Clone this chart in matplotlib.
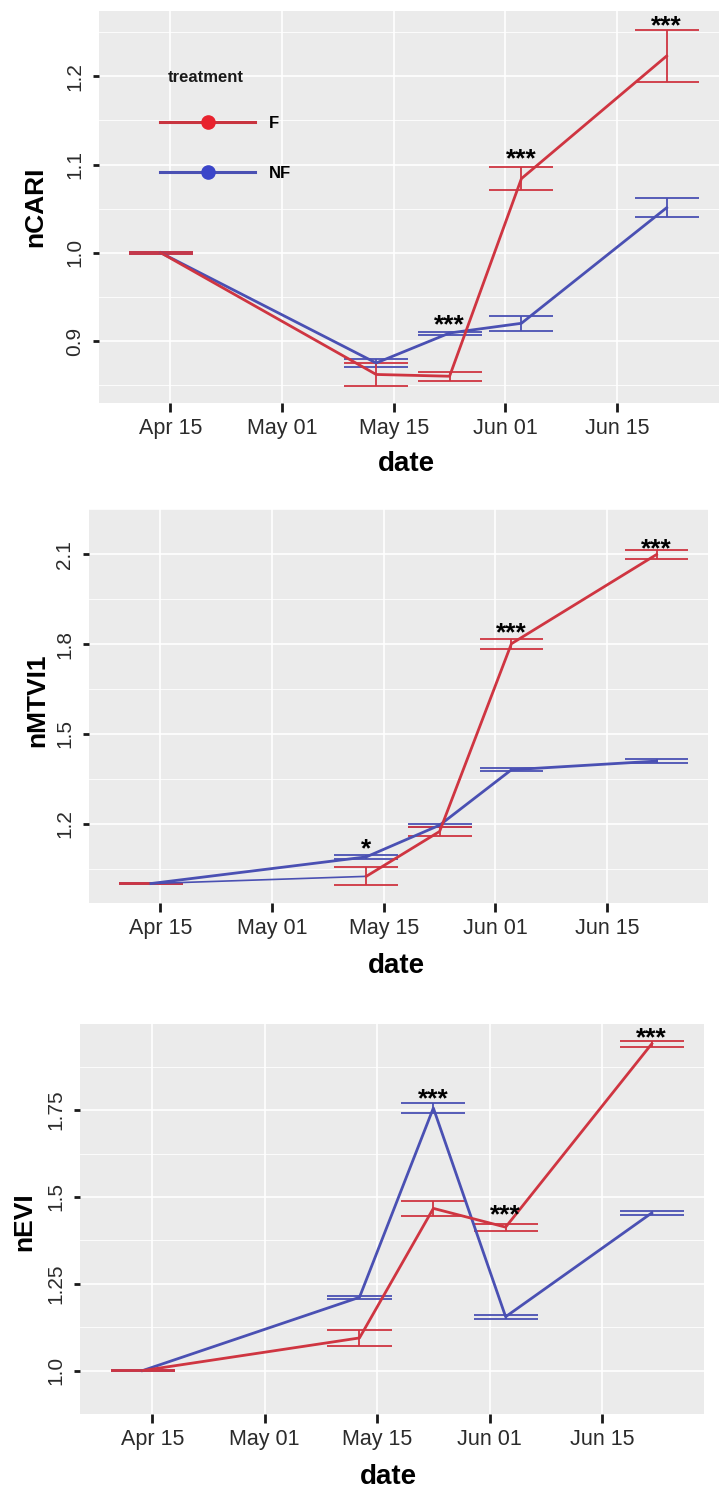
import matplotlib
matplotlib.use("Agg")
import matplotlib.pyplot as plt
from matplotlib.lines import Line2D

plt.rcParams['font.family'] = ['Liberation Sans', 'DejaVu Sans']

W, H = 720, 1490

# sampling dates, as days after Apr 15 (axis ticks every two weeks)
days = [-1.2, 25.8, 35.0, 44.0, 62.2]
date_ticks = [0, 14, 28, 42, 56]
date_labels = ["Apr 15", "May 01", "May 15", "Jun 01", "Jun 15"]

# nCARI
cari_f = [1.0, 0.862, 0.860, 1.084, 1.223]
cari_f_se = [0.001, 0.0135, 0.005, 0.0133, 0.030]
cari_nf = [1.0, 0.875, 0.909, 0.920, 1.051]
cari_nf_se = [0.001, 0.005, 0.0017, 0.0087, 0.011]
cari_stars = ["", "", "***", "***", "***"]
cari_star_y = [0, 0, 0.924, 1.112, 1.263]

# nMTVI1
mtvi_f = [1.0, 1.024, 1.174, 1.801, 2.099]
mtvi_f_se = [0.002, 0.030, 0.016, 0.016, 0.015]
mtvi_nf = [1.0, 1.089, 1.195, 1.380, 1.409]
mtvi_nf_se = [0.002, 0.007, 0.005, 0.005, 0.007]
mtvi_stars = ["", "*", "", "***", "***"]
mtvi_star_y = [0, 1.134, 0, 1.855, 2.136]

# nEVI
evi_f = [1.0, 1.094, 1.467, 1.413, 1.941]
evi_f_se = [0.002, 0.024, 0.022, 0.010, 0.008]
evi_nf = [1.0, 1.211, 1.756, 1.155, 1.454]
evi_nf_se = [0.002, 0.005, 0.014, 0.006, 0.006]
evi_stars = ["", "", "***", "***", "***"]
evi_star_y = [0, 0, 1.798, 1.464, 1.973]

RED = "#cf3541"
BLUE = "#4a50b3"
CAP = 4.0  # half width of the error bar caps, days


def fig_xy(x, y):
    return x / W, 1 - y / H


def panel(fig, box, ylim, yticks, ylabels, f, f_se, nf, nf_se, stars, star_y,
          ylabel, ylabel_xy, xlabel_xy, blue_first_seg=False):
    left, top, right, bottom = box
    ax = fig.add_axes([left / W, 1 - bottom / H, (right - left) / W, (bottom - top) / H])
    ax.set_facecolor("#ebebeb")
    for s in ax.spines.values():
        s.set_visible(False)
    ax.set_xlim(-9, 68.7)
    ax.set_ylim(*ylim)
    ax.set_xticks(date_ticks, date_labels)
    ax.set_yticks(yticks, ylabels)
    step = yticks[1] - yticks[0]
    minor = [yticks[0] - step / 2] + [t + step / 2 for t in yticks]
    ax.set_yticks(minor, minor=True)
    ax.grid(True, which='major', color='white', lw=1.2)
    ax.grid(True, which='minor', axis='y', color='white', lw=0.6)
    ax.set_axisbelow(True)
    ax.tick_params(which='minor', length=0)
    ax.tick_params(axis='x', length=6.5, width=2, color='#1a1a1a', pad=4.5,
                   labelsize=15.5, labelcolor='#2b2b2b')
    ax.tick_params(axis='y', length=4, width=2, color='#1a1a1a', pad=6.5,
                   labelsize=15, labelcolor='#2b2b2b', labelrotation=90)
    plt.setp(ax.get_yticklabels(), va='center')

    for vals, se, col in ((nf, nf_se, BLUE), (f, f_se, RED)):
        lo = [v - e for v, e in zip(vals, se)]
        hi = [v + e for v, e in zip(vals, se)]
        x0 = [d - CAP for d in days]
        x1 = [d + CAP for d in days]
        ax.vlines(days, lo, hi, color=col, lw=1.3)
        ax.hlines(lo, x0, x1, color=col, lw=1.3)
        ax.hlines(hi, x0, x1, color=col, lw=1.3)

    ax.plot(days, nf, color=BLUE, lw=2)
    if blue_first_seg:
        # the original shows the first F segment in blue
        ax.plot(days[:2], f[:2], color=BLUE, lw=1.2)
        ax.plot(days[1:], f[1:], color=RED, lw=2)
    else:
        ax.plot(days, f, color=RED, lw=2)

    for d, s, y in zip(days, stars, star_y):
        if s:
            ax.annotate(s, (d, y), xytext=(0, -4), textcoords='offset points',
                        ha='center', va='center', fontsize=19, fontweight='bold')

    ax.set_ylabel(ylabel, fontsize=19, fontweight='bold', va='center')
    ax.yaxis.set_label_coords(*fig_xy(*ylabel_xy), transform=fig.transFigure)
    ax.set_xlabel("date", fontsize=20, fontweight='bold', va='center')
    ax.xaxis.set_label_coords(*fig_xy(*xlabel_xy), transform=fig.transFigure)
    return ax


fig = plt.figure(figsize=(W / 100, H / 100), dpi=100)

ax1 = panel(fig, (98.5, 11, 718.5, 402.7), (0.83, 1.274),
            [0.9, 1.0, 1.1, 1.2], ["0.9", "1.0", "1.1", "1.2"],
            cari_f, cari_f_se, cari_nf, cari_nf_se, cari_stars, cari_star_y,
            "nCARI", (35, 207), (406, 464))

panel(fig, (88.7, 509.3, 708.4, 902.7), (0.936, 2.168),
      [1.2, 1.5, 1.8, 2.1], ["1.2", "1.5", "1.8", "2.1"],
      mtvi_f, mtvi_f_se, mtvi_nf, mtvi_nf_se, mtvi_stars, mtvi_star_y,
      "nMTVI1", (37, 700), (396, 966), blue_first_seg=True)

panel(fig, (80, 1024.3, 704, 1414), (0.956, 1.997),
      [1.0, 1.25, 1.5, 1.75], ["1.0", "1.25", "1.5", "1.75"],
      evi_f, evi_f_se, evi_nf, evi_nf_se, evi_stars, evi_star_y,
      "nEVI", (24, 1222), (388, 1477))

# legend inside the first panel
handles = [
    Line2D([], [], color="#c8343f", lw=2.2, marker='o', ms=9.5,
           mfc="#e8222e", mec="#e8222e"),
    Line2D([], [], color="#4a50b3", lw=2.2, marker='o', ms=9.5,
           mfc="#3b45c9", mec="#3b45c9"),
]
ax1.legend(handles, ["F", "NF"], loc='upper left', bbox_to_anchor=fig_xy(152, 108),
           bbox_transform=fig.transFigure, frameon=False, borderpad=0,
           handlelength=5.7, handletextpad=0.8, labelspacing=2.1,
           prop={'weight': 'bold', 'size': 12})
fig.text(*fig_xy(206, 78), "treatment", ha='center', va='center',
         fontsize=12, fontweight='bold', color='#1a1a1a')

fig.savefig("out.png", dpi=100, facecolor='white')
